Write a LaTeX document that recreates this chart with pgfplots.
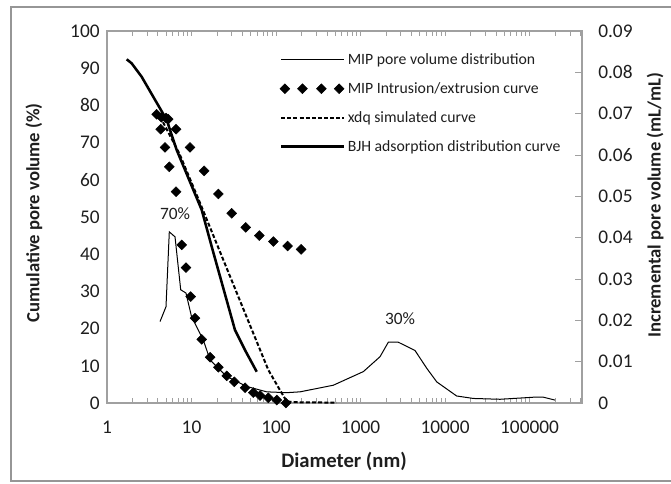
\documentclass[border=0pt]{standalone}
\usepackage{fontspec}
\setmainfont{Carlito}
\usepackage{pgfplots}
\pgfplotsset{compat=1.18}

\definecolor{axgray}{RGB}{160,160,160}
\definecolor{framegray}{RGB}{150,150,150}
\definecolor{txt}{RGB}{30,30,30}

\pgfplotsset{
  longline legend/.style={
    legend image code/.code={\draw[##1] (0pt,0pt) -- (47pt,0pt);}
  },
  fourdiamond legend/.style={
    legend image code/.code={
      \draw[##1] plot coordinates {(2.8pt,0pt) (16pt,0pt) (30.2pt,0pt) (43.5pt,0pt)};
    }
  },
}

\begin{document}
\begin{tikzpicture}
\useasboundingbox (0pt,0pt) rectangle (503.25pt,362.25pt);
\draw[framegray, line width=1.1pt] (520pt,1.5pt) -- (8.25pt,1.5pt) -- (8.25pt,357pt) -- (520pt,357pt);

% left axis: cumulative pore volume  (1px = 0.75pt)
\begin{axis}[
  scale only axis,
  width=356.25pt, height=279pt,
  at={(80.25pt,60pt)}, anchor=south west,
  xmode=log,
  xmin=1, xmax=417000,
  ymin=0, ymax=100,
  ytick={0,10,20,30,40,50,60,70,80,90,100},
  yticklabels={0,10,20,30,40,50,60,70,80,90,100},
  xtick={1,10,100,1000,10000,100000},
  xticklabels={1,10,100,1000,10000,100000},
  minor xtick={2,3,4,5,6,7,8,9,
    20,30,40,50,60,70,80,90,
    200,300,400,500,600,700,800,900,
    2000,3000,4000,5000,6000,7000,8000,9000,
    20000,30000,40000,50000,60000,70000,80000,90000,
    200000,300000,400000},
  tick label style={font=\fontsize{14.5}{17}\selectfont, text=txt},
  label style={font=\fontsize{14}{17}\selectfont\bfseries, text=txt},
  tick align=inside,
  axis line style={axgray, line width=0.8pt},
  ytick style={draw=none},
  xtick style={axgray, line width=0.6pt},
  minor x tick style={axgray, line width=0.6pt},
  major tick length=4pt, minor tick length=3.75pt,
  xticklabel style={yshift=-10pt},
  yticklabel style={xshift=-2pt},
  xlabel={Diameter (nm)},
  xlabel style={at={(axis description cs:0.499,-0.157)}, anchor=center,
    font=\fontsize{15.5}{18}\selectfont\bfseries},
  ylabel={Cumulative pore volume (\%)},
  ylabel style={at={(axis description cs:-0.154,0.511)}, anchor=center},
  legend cell align=left,
  legend style={
    draw=none, fill=none,
    at={(axis description cs:0.355,0.955)}, anchor=north west,
    font=\fontsize{11.8}{14}\selectfont,
    text=txt,
    row sep=8pt,
  },
]

\addlegendimage{black, line width=0.75pt, longline legend}
\addlegendentry{MIP pore volume distribution}

% MIP intrusion/extrusion points
\addplot[only marks, mark=square*, mark size=2.6pt,
  mark options={rotate=45, fill=black, draw=black}, fourdiamond legend]
  coordinates {
    (3.87,77.6) (4.4,76.8) (5.0,76.6) (5.3,76.3)
    (4.32,73.6) (6.56,73.6) (4.86,68.7) (9.6,68.7)
    (5.46,63.5) (14.1,62.4) (6.56,56.8) (20.8,56.2)
    (29.9,51.0) (43.8,47.2) (63.5,45.0) (93,43.4)
    (137,42.2) (198,41.3)
    (7.66,42.5) (8.6,36.4) (9.77,28.6) (11.0,22.8)
    (13.2,17.1) (16.6,12.3) (20.8,9.6) (26.1,7.3)
    (32.1,5.7) (43,4.1) (53.9,2.8) (64.7,2.0)
    (81,1.4) (102,0.8) (131,0.0)
  };
\addlegendentry{MIP Intrusion/extrusion curve}

% xdq simulated curve
\addplot[black, line width=1.5pt, dash pattern=on 3pt off 1.6pt, longline legend]
  coordinates {
    (4.6,75.5) (7.2,67.0) (12.6,53.8) (48,21.5) (81,8.9)
    (111,3.5) (134,0.4) (180,0.2) (520,0.1)
  };
\addlegendentry{xdq simulated curve}

% BJH adsorption curve
\addplot[black, line width=1.9pt, longline legend]
  coordinates {
    (1.71,92.4) (1.96,91.3) (2.57,87.7) (3.53,82.3) (5.09,76.1)
    (6.68,68.0) (13.2,51.9) (17.8,41.1) (32.7,19.6) (43,14.2)
    (59.1,8.4)
  };
\addlegendentry{BJH adsorption distribution curve}

\node[font=\fontsize{13}{15}\selectfont, text=txt] at (axis cs:6.38,50.8) {70\%};
\node[font=\fontsize{13}{15}\selectfont, text=txt] at (axis cs:2930,22.8) {30\%};
\end{axis}

% right axis: incremental pore volume
\begin{axis}[
  scale only axis,
  width=356.25pt, height=279pt,
  at={(80.25pt,60pt)}, anchor=south west,
  xmode=log,
  xmin=1, xmax=417000,
  axis x line=none,
  axis y line*=right,
  ymin=0, ymax=0.09,
  scaled y ticks=false,
  ytick={0,0.01,0.02,0.03,0.04,0.05,0.06,0.07,0.08,0.09},
  yticklabels={0,0.01,0.02,0.03,0.04,0.05,0.06,0.07,0.08,0.09},
  tick label style={font=\fontsize{14.5}{17}\selectfont, text=txt},
  label style={font=\fontsize{14}{17}\selectfont\bfseries, text=txt},
  axis line style={axgray, line width=0.8pt},
  ytick style={axgray, line width=0.6pt},
  major tick length=5.25pt,
  tick align=inside,
  yticklabel style={xshift=8.7pt},
  ylabel={Incremental pore volume (mL/mL)},
  ylabel style={at={(axis description cs:1.154,0.532)}, anchor=center},
]
\addplot[black, line width=0.75pt]
  coordinates {
    (4.24,0.0197) (4.99,0.0233) (5.46,0.0414) (6.38,0.0402)
    (7.45,0.0274) (8.6,0.0266) (10,0.0209) (13.8,0.0152)
    (16.6,0.0104) (26.1,0.0064) (45,0.0040) (77.6,0.0027)
    (134,0.0025) (192,0.0027) (476,0.0043) (1080,0.0076)
    (1700,0.0112) (2130,0.0147) (2800,0.0147) (4410,0.0127)
    (6070,0.0084) (7980,0.0051) (13700,0.0017) (21600,0.0011)
    (44800,0.0009) (111000,0.0014) (146000,0.0014) (200000,0.0007)
  };
\end{axis}
\end{tikzpicture}
\end{document}
